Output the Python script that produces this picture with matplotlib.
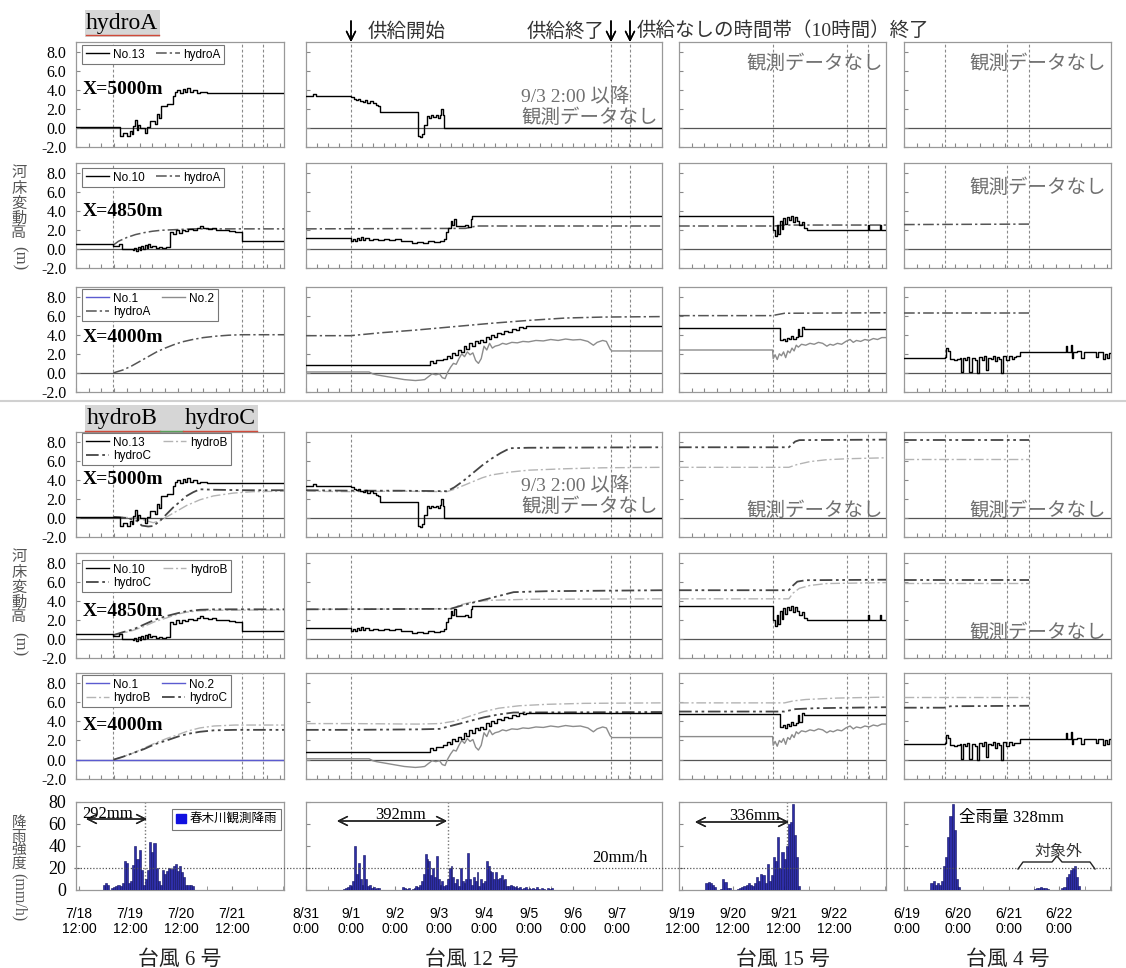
import numpy as np
import matplotlib
matplotlib.use('Agg')
import matplotlib.pyplot as plt
from matplotlib.lines import Line2D
from matplotlib.patches import Patch, Rectangle

W, H = 1126, 968
SERIF = ['Liberation Serif', 'Noto Sans CJK JP']
SANS = ['Liberation Sans', 'Noto Sans CJK JP']
JP = ['Noto Sans CJK JP', 'DejaVu Sans']

# ---------------- data (hours from left edge of each column) ----------------
# typhoon 6
t6_no13_t = [0, 20.7, 22.3, 23.9, 25.4, 26.2, 27.0, 27.8, 28.6, 29.4, 30.2, 32.5, 33.3, 34.9, 37.2, 38.0,
             39.3, 39.9, 43.0, 45.9, 46.6, 47.4, 49.0, 50.2, 51.3, 52.1, 53.7, 55.3, 56.8, 58.4, 60.8, 61.6, 98]
t6_no13_v = [0.1, -0.8, -0.5, -0.85, -0.3, -0.6, 0.2, 0.8, -0.2, 0.3, 0.0, -0.5, 0.1, 0.7, 0.4, 1.5,
             1.0, 2.3, 2.5, 3.3, 3.8, 4.0, 3.7, 4.1, 3.8, 4.2, 3.8, 4.0, 3.7, 3.8, 3.75, 3.7, 3.7]
t6_no10_t = [0, 17.6, 20.4, 21.5, 26.7, 27.5, 28.3, 29.1, 30.0, 30.8, 31.6, 32.5, 33.3, 34.0, 35.0, 36.0,
             37.5, 39.0, 40.5, 42.5, 44.3, 45.5, 47.0, 48.5, 50.0, 51.5, 53.0, 55.0, 57.0, 58.4, 60, 62,
             64, 66, 68, 70, 72, 75, 78.4, 98]
t6_no10_v = [0.5, 0.3, 0.5, 0.0, -0.1, 0.1, -0.2, 0.2, -0.1, 0.3, 0.0, 0.4, 0.1, 0.5, 0.2, 0.3,
             0.1, 0.2, 0.1, 0.2, 1.8, 1.6, 2.0, 1.7, 2.0, 1.9, 2.1, 2.0, 2.2, 2.35, 2.2, 2.1,
             2.15, 2.0, 1.95, 2.0, 1.85, 1.8, 0.8, 0.8]
t6_no1_t = [0, 98]
t6_no1_v = [0.0, 0.0]
t6_hA2_t = [17.6, 20, 24, 28, 32, 36, 40, 45, 50, 55, 98]
t6_hA2_v = [0.4, 0.8, 1.2, 1.5, 1.7, 1.85, 1.95, 2.0, 2.05, 2.1, 2.1]
t6_hA3_t = [17.6, 22, 26, 30, 34, 38, 42, 46, 50, 55, 60, 66, 72, 78, 98]
t6_hA3_v = [0.0, 0.3, 0.7, 1.2, 1.7, 2.2, 2.6, 2.95, 3.25, 3.5, 3.7, 3.85, 3.95, 4.0, 4.0]
t6_hB4_t = [17.6, 28.6, 33.3, 36.4, 39.6, 42.7, 45.8, 49.0, 52.1, 55.3, 58.4, 64.7, 74.1, 83.5, 98]
t6_hB4_v = [0.1, 0.0, -0.3, -0.5, -0.3, 0.1, 0.5, 0.9, 1.3, 1.6, 1.9, 2.3, 2.6, 2.75, 2.8]
t6_hC4_t = [17.6, 24, 28.6, 31, 34, 36.4, 39.6, 42.7, 45.8, 49.0, 52.1, 55.3, 58.4, 65, 80, 98]
t6_hC4_v = [0.1, 0.0, -0.3, -0.8, -0.9, -0.85, -0.3, 0.4, 1.1, 1.7, 2.3, 2.7, 3.0, 2.95, 2.9, 2.9]
t6_h5_t = [17.6, 22, 27, 32, 37, 42.7, 48, 52, 58.4, 66, 98]
t6_hB5_v = [0.4, 0.6, 0.9, 1.3, 1.8, 2.2, 2.6, 2.8, 2.95, 3.0, 3.05]
t6_hC5_v = [0.4, 0.7, 1.0, 1.5, 2.0, 2.4, 2.7, 2.9, 3.05, 3.1, 3.1]
t6_h6_t = [17.6, 22, 27, 32, 37, 42.7, 48, 53, 58.4, 65, 75, 98]
t6_hB6_v = [0.0, 0.3, 0.7, 1.2, 1.7, 2.2, 2.6, 3.0, 3.3, 3.5, 3.6, 3.6]
t6_hC6_v = [0.0, 0.3, 0.7, 1.1, 1.6, 2.0, 2.4, 2.7, 2.9, 3.05, 3.1, 3.1]

# typhoon 12
t12_no13_t = [0, 3.6, 5.4, 24.3, 26, 27, 28, 29, 30.5, 32, 33, 34.5, 36, 37.5, 39, 40, 60.6, 61.5, 62.5,
              63.5, 65, 66.5, 67.5, 68.5, 70, 71, 72, 73, 73.8, 74.2, 192]
t12_no13_v = [3.3, 3.6, 3.35, 3.2, 3.0, 2.9, 3.0, 2.8, 2.7, 2.9, 2.6, 2.8, 2.6, 2.4, 2.3, 1.7, -0.8, -1.0, -0.6,
              0.3, 1.2, 1.0, 1.3, 1.1, 1.3, 1.0, 1.4, 2.0, 1.3, 0.0, 0.0]
t12_no10_t = [0, 24.3, 25.5, 26.5, 27.5, 28.5, 29.5, 30.5, 32, 34, 36, 39, 42, 45, 48, 51, 54, 57, 60, 63,
              66, 69, 72, 74.5, 75.5, 76.5, 78, 79, 80, 81, 83, 85.5, 87.5, 89, 89.5, 192]
t12_no10_v = [1.1, 0.8, 1.0, 0.8, 1.1, 0.9, 1.2, 0.9, 1.1, 0.95, 1.0, 0.9, 1.0, 0.95, 1.05, 0.8, 0.85, 0.6,
              0.75, 0.65, 0.8, 0.7, 0.8, 1.0, 1.8, 2.2, 2.9, 2.5, 3.1, 2.4, 2.45, 2.5, 2.3, 3.1, 3.45, 3.45]
t12_no1_t = [0, 67, 68.5, 70, 72, 74, 76, 77.5, 79, 80.5, 82, 83.5, 85, 86.5, 88, 89.5, 91, 92.5, 94, 95.5,
             97, 98.5, 100, 101.5, 103, 105, 107, 109, 111, 113, 115, 117, 118.5, 192]
t12_no1_v = [0.8, 1.2, 1.0, 1.3, 1.3, 1.5, 1.8, 1.6, 2.1, 1.9, 2.4, 2.2, 2.8, 2.5, 3.1, 2.8, 3.3, 3.1, 3.4,
             3.2, 3.8, 3.5, 4.0, 3.8, 4.2, 4.1, 4.4, 4.3, 4.6, 4.5, 4.8, 4.75, 4.9, 4.9]
t12_no2_t = [0, 34, 36, 38, 41, 44, 47, 50, 53, 56, 59, 62, 64, 66, 68, 70, 72, 73.5, 75, 76.5, 78, 79.5,
             81, 82.5, 84, 85.5, 87, 88.5, 90, 91.5, 93, 94.5, 96, 97.5, 99, 100.5, 102, 104, 106, 108,
             111, 114, 117, 120, 124, 128, 132, 136, 140, 144, 148, 152, 155, 157, 160, 162, 164, 165, 192]
t12_no2_v = [0.1, 0.1, -0.1, -0.2, -0.3, -0.4, -0.5, -0.6, -0.7, -0.75, -0.8, -0.75, -0.7, -0.4, -0.1,
             -0.2, -0.1, -0.5, -0.6, 0.1, 0.6, 1.0, 0.9, 1.5, 2.0, 1.7, 2.2, 1.9, 2.1, 1.3, 1.0, 1.5,
             2.8, 2.4, 3.1, 2.6, 2.8, 2.9, 3.1, 3.0, 3.2, 3.15, 3.3, 3.25, 3.4, 3.35, 3.5, 3.4, 3.55,
             3.45, 3.5, 3.3, 2.9, 3.2, 3.4, 3.3, 2.5, 2.3, 2.3]
t12_hA2_t = [0, 86, 92, 192]
t12_hA2_v = [2.1, 2.15, 2.4, 2.4]
t12_hA3_t = [0, 24, 40, 60, 80, 100, 120, 140, 160, 192]
t12_hA3_v = [3.9, 3.9, 4.2, 4.5, 4.85, 5.2, 5.5, 5.75, 5.85, 5.9]
t12_hC4_t = [0, 24, 50, 76, 80, 85, 90, 95, 100, 105, 110, 120, 192]
t12_hC4_v = [2.9, 2.85, 2.85, 2.8, 3.2, 3.9, 4.7, 5.5, 6.2, 6.8, 7.3, 7.35, 7.4]
t12_hB4_t = [0, 24, 50, 76, 80, 85, 90, 95, 100, 110, 120, 140, 160, 192]
t12_hB4_v = [2.8, 2.75, 2.8, 2.75, 3.0, 3.4, 3.8, 4.2, 4.5, 4.8, 5.0, 5.15, 5.25, 5.3]
t12_hC5_t = [0, 78, 84, 90, 96, 104, 112, 130, 192]
t12_hC5_v = [3.1, 3.15, 3.5, 3.8, 4.1, 4.5, 4.9, 5.0, 5.1]
t12_hB5_t = [0, 78, 84, 90, 100, 120, 192]
t12_hB5_v = [3.1, 3.15, 3.6, 3.9, 4.05, 4.15, 4.2]
t12_hB6_t = [0, 24, 60, 72, 80, 88, 96, 104, 115, 130, 150, 192]
t12_hB6_v = [3.75, 3.75, 3.7, 3.75, 4.0, 4.5, 5.0, 5.35, 5.6, 5.75, 5.85, 5.9]
t12_hC6_t = [0, 24, 60, 72, 80, 88, 96, 104, 112, 192]
t12_hC6_v = [3.1, 3.1, 3.15, 3.2, 3.6, 4.0, 4.4, 4.7, 4.9, 4.95]

# typhoon 15
t15_no10_t = [0, 44.6, 45.4, 46.2, 47.0, 47.8, 48.6, 49.4, 50.2, 51.0, 52.0, 53.0, 54.0, 55.0, 56.0, 57.0,
              58.0, 59.0, 60.5, 89.5, 90.0, 95.0, 95.5, 98]
t15_no10_v = [3.5, 2.0, 1.4, 2.5, 1.6, 2.9, 2.1, 3.2, 2.6, 3.3, 3.0, 3.4, 2.8, 3.3, 2.9, 2.5,
              2.8, 2.2, 2.0, 2.5, 2.0, 2.5, 2.0, 2.0]
t15_no1_t = [0, 47.8, 49, 50, 51, 52, 53, 54, 55.5, 56.5, 57, 58, 59, 98]
t15_no1_v = [4.7, 3.4, 3.6, 3.3, 3.7, 3.5, 3.9, 3.6, 3.8, 4.6, 3.9, 4.8, 4.6, 4.6]
t15_no2_t = [0, 44.3, 44.6, 45.5, 46.5, 47.5, 48.5, 49.5, 50.5, 51.5, 52.5, 53.5, 54.5, 55.5, 56.5, 58, 60,
             62, 64, 66, 68, 70, 71.5, 73, 75, 77, 79, 81, 82.5, 84, 86, 88, 90, 92, 94, 96, 98]
t15_no2_v = [2.4, 2.4, 1.5, 1.9, 1.4, 2.0, 1.8, 2.2, 1.6, 2.3, 2.1, 2.6, 2.3, 2.9, 2.7, 3.0, 2.9,
             3.1, 3.0, 3.2, 3.1, 2.8, 3.0, 2.9, 3.1, 3.0, 3.3, 3.5, 3.2, 3.4, 3.3, 3.5, 3.4, 3.6, 3.5, 3.7, 3.7]
t15_hA2_t = [0, 45, 50, 98]
t15_hA2_v = [2.4, 2.4, 2.5, 2.5]
t15_hA3_t = [0, 44, 50, 98]
t15_hA3_v = [6.0, 6.0, 6.25, 6.3]
t15_hC4_t = [0, 52, 55, 57, 98]
t15_hC4_v = [7.4, 7.4, 8.0, 8.15, 8.2]
t15_hB4_t = [0, 52, 56, 62, 70, 80, 98]
t15_hB4_v = [5.3, 5.3, 5.6, 5.9, 6.1, 6.2, 6.3]
t15_hC5_t = [0, 52, 54, 56, 60, 98]
t15_hC5_v = [5.1, 5.1, 5.6, 6.0, 6.15, 6.2]
t15_hB5_t = [0, 52, 54, 57, 62, 70, 98]
t15_hB5_v = [4.2, 4.2, 4.8, 5.3, 5.6, 5.8, 5.9]
t15_hB6_t = [0, 50, 54, 60, 75, 98]
t15_hB6_v = [5.9, 5.9, 6.1, 6.25, 6.4, 6.5]
t15_hC6_t = [0, 50, 55, 65, 98]
t15_hC6_v = [5.0, 5.0, 5.25, 5.35, 5.45]

# typhoon 4
t4_no1_t = [0, 19.3, 20, 21, 22, 23.5, 25, 26.5, 27, 28, 29, 30, 31, 32, 33.5, 34.5, 35.5, 37, 38, 39,
            40, 41, 42, 43, 44, 45, 46, 47, 48.5, 49.5, 51, 52, 53, 55, 76.5, 77, 79, 79.5, 80, 82,
            84, 85, 90, 91, 92, 94, 95, 96, 97, 98]
t4_no1_v = [1.6, 1.7, 2.6, 2.3, 1.5, 1.4, 1.5, 1.6, 0.1, 1.6, 1.4, 1.7, 0.1, 1.6, 1.4, 0.0, 1.7, 1.4, 1.8, 0.3,
            1.6, 1.5, 1.8, 1.2, 1.7, 1.5, 0.0, 1.8, 1.4, 1.8, 1.5, 1.7, 1.75, 2.2, 2.8, 2.2, 2.9, 1.6, 2.2, 2.25,
            1.6, 2.2, 2.2, 1.7, 2.2, 1.5, 2.0, 1.6, 2.1, 2.1]
t4_end_t = [0, 59.2]
t4_hA2_v = [2.55, 2.6]
t4_hA3_v = [6.3, 6.3]
t4_hC4_v = [8.2, 8.2]
t4_hB4_v = [6.2, 6.2]
t4_hC5_v = [6.2, 6.2]
t4_hB5_v = [5.9, 5.9]
t4_hB6_v = [6.5, 6.5]
t4_hC6_t = [0, 19, 22, 59.2]
t4_hC6_v = [5.4, 5.4, 5.55, 5.6]

# hourly rain (mm/h), first hour of each run
rain6_start = 11
rain6 = [5, 6, 5, 0, 2, 3, 4, 5, 4, 6, 26, 25, 6, 8, 23, 40, 28, 36, 18, 5, 10, 18, 44, 35, 43, 20, 8, 5,
         18, 15, 17, 20, 19, 22, 24, 17, 22, 16, 12, 5, 5, 5, 4]
rain12_start = 20
rain12 = [1, 2, 3, 5, 4, 8, 40, 15, 25, 10, 5, 32, 10, 4, 5, 2, 3, 1, 2, 2, 0, 0, 0, 0, 0, 0, 0, 0, 0, 0,
          0, 0, 3, 2, 1, 2, 0, 1, 2, 4, 3, 5, 8, 15, 33, 28, 26, 14, 20, 12, 31, 10, 5, 8, 4, 5, 10, 20,
          22, 12, 6, 10, 4, 20, 8, 6, 10, 34, 10, 5, 12, 8, 16, 4, 10, 6, 8, 26, 22, 17, 16, 10, 16, 10,
          11, 14, 9, 10, 4, 4, 5, 4, 3, 4, 2, 3, 1, 2, 3, 1, 2, 1, 2, 1, 3, 1, 0, 2, 1, 0, 2, 1, 2]
rain15_start = 10
rain15 = [0, 6, 7, 6, 5, 3, 0, 0, 1, 10, 7, 2, 2, 0, 0, 0, 1, 2, 3, 4, 5, 6, 5, 4, 6, 12, 8, 15, 14, 6,
          24, 8, 14, 30, 26, 48, 20, 35, 28, 40, 60, 62, 78, 50, 30, 4]
rain4a_start = 11
rain4a = [6, 8, 5, 6, 5, 8, 22, 30, 48, 67, 78, 55, 10, 3]
rain4b_start = 60
rain4b = [1, 2, 2, 3, 2, 2, 1]
rain4c_start = 73
rain4c = [2, 3, 12, 15, 18, 20, 22, 12, 4]

rain6_labels = ['7/18\n12:00', '7/19\n12:00', '7/20\n12:00', '7/21\n12:00']
rain12_labels = ['8/31\n0:00', '9/1\n0:00', '9/2\n0:00', '9/3\n0:00', '9/4\n0:00', '9/5\n0:00',
                 '9/6\n0:00', '9/7\n0:00']
rain15_labels = ['9/19\n12:00', '9/20\n12:00', '9/21\n12:00', '9/22\n12:00']
rain4_labels = ['6/19\n0:00', '6/20\n0:00', '6/21\n0:00', '6/22\n0:00']
typhoon_names = ['台風 6 号', '台風 12 号', '台風 15 号', '台風 4 号']
section_names = ['X=5000m', 'X=4850m', 'X=4000m', 'X=5000m', 'X=4850m', 'X=4000m']

# supply start / end / end of 10h no-supply, per column (hours)
supply = [(17.5, 78.2, 88.3), (24.3, 164.5, 174.5), (44.5, 79.5, 89.5), (19.4, 48.8, 59.2)]
rain_mark = [31.2, 76.4, 49.4]

# ---------------- layout ----------------
COLS = [(76, 284), (306, 662), (679, 886), (904, 1111)]
ROWS = [(42, 147), (163, 268), (287, 392), (432, 537), (553, 658), (673, 779)]
RAIN_TB = (802, 890)
SPANS = [98, 192, 98, 98]

DD = (0, (7, 2, 1.5, 2))
STYLES = {
    'obs': dict(color='black', lw=1.0, drawstyle='steps-post'),
    'obs2': dict(color='#8c8c8c', lw=1.0),
    'no1b': dict(color='#5b5bd0', lw=1.0),
    'no2b': dict(color='#5b5bd0', lw=1.0),
    'hA': dict(color='#555555', lw=1.1, ls=DD),
    'hB': dict(color='#b4b4b4', lw=1.0, ls=DD),
    'hC': dict(color='#454545', lw=1.3, ls=(0, (7, 2, 1.5, 2, 1.5, 2))),
}

panels = {
    (0, 0): [(t6_no13_t, t6_no13_v, 'obs')],
    (1, 0): [(t6_hA2_t, t6_hA2_v, 'hA'), (t6_no10_t, t6_no10_v, 'obs')],
    (2, 0): [(t6_hA3_t, t6_hA3_v, 'hA')],
    (3, 0): [(t6_hB4_t, t6_hB4_v, 'hB'), (t6_hC4_t, t6_hC4_v, 'hC'), (t6_no13_t, t6_no13_v, 'obs')],
    (4, 0): [(t6_h5_t, t6_hB5_v, 'hB'), (t6_h5_t, t6_hC5_v, 'hC'), (t6_no10_t, t6_no10_v, 'obs')],
    (5, 0): [(t6_no1_t, t6_no1_v, 'no1b'), (t6_h6_t, t6_hB6_v, 'hB'), (t6_h6_t, t6_hC6_v, 'hC')],
    (0, 1): [(t12_no13_t, t12_no13_v, 'obs')],
    (1, 1): [(t12_hA2_t, t12_hA2_v, 'hA'), (t12_no10_t, t12_no10_v, 'obs')],
    (2, 1): [(t12_hA3_t, t12_hA3_v, 'hA'), (t12_no2_t, t12_no2_v, 'obs2'), (t12_no1_t, t12_no1_v, 'obs')],
    (3, 1): [(t12_hB4_t, t12_hB4_v, 'hB'), (t12_hC4_t, t12_hC4_v, 'hC'), (t12_no13_t, t12_no13_v, 'obs')],
    (4, 1): [(t12_hB5_t, t12_hB5_v, 'hB'), (t12_hC5_t, t12_hC5_v, 'hC'), (t12_no10_t, t12_no10_v, 'obs')],
    (5, 1): [(t12_hB6_t, t12_hB6_v, 'hB'), (t12_hC6_t, t12_hC6_v, 'hC'), (t12_no2_t, t12_no2_v, 'obs2'),
             (t12_no1_t, t12_no1_v, 'obs')],
    (0, 2): [],
    (1, 2): [(t15_hA2_t, t15_hA2_v, 'hA'), (t15_no10_t, t15_no10_v, 'obs')],
    (2, 2): [(t15_hA3_t, t15_hA3_v, 'hA'), (t15_no2_t, t15_no2_v, 'obs2'), (t15_no1_t, t15_no1_v, 'obs')],
    (3, 2): [(t15_hB4_t, t15_hB4_v, 'hB'), (t15_hC4_t, t15_hC4_v, 'hC')],
    (4, 2): [(t15_hB5_t, t15_hB5_v, 'hB'), (t15_hC5_t, t15_hC5_v, 'hC'), (t15_no10_t, t15_no10_v, 'obs')],
    (5, 2): [(t15_hB6_t, t15_hB6_v, 'hB'), (t15_hC6_t, t15_hC6_v, 'hC'), (t15_no2_t, t15_no2_v, 'obs2'),
             (t15_no1_t, t15_no1_v, 'obs')],
    (0, 3): [],
    (1, 3): [(t4_end_t, t4_hA2_v, 'hA')],
    (2, 3): [(t4_end_t, t4_hA3_v, 'hA'), (t4_no1_t, t4_no1_v, 'obs')],
    (3, 3): [(t4_end_t, t4_hB4_v, 'hB'), (t4_end_t, t4_hC4_v, 'hC')],
    (4, 3): [(t4_end_t, t4_hB5_v, 'hB'), (t4_end_t, t4_hC5_v, 'hC')],
    (5, 3): [(t4_end_t, t4_hB6_v, 'hB'), (t4_hC6_t, t4_hC6_v, 'hC'), (t4_no1_t, t4_no1_v, 'obs')],
}

# legend entries, already in column-major order for ncol=2
legends = [
    [('No.13', 'obs'), ('hydroA', 'hA')],
    [('No.10', 'obs'), ('hydroA', 'hA')],
    [('No.1', 'no1b'), ('hydroA', 'hA'), ('No.2', 'obs2')],
    [('No.13', 'obs'), ('hydroC', 'hC'), ('hydroB', 'hB')],
    [('No.10', 'obs'), ('hydroC', 'hC'), ('hydroB', 'hB')],
    [('No.1', 'no1b'), ('hydroB', 'hB'), ('No.2', 'no2b'), ('hydroC', 'hC')],
]
legend_top = [45, 168, 289, 433, 560, 675]
label_y = [89, 211, 338, 480, 611, 725]


def box(l, t, r, b):
    return [l / W, 1 - b / H, (r - l) / W, (b - t) / H]


def ftext(x, y, s, **kw):
    return fig.text(x / W, 1 - y / H, s, **kw)


def fline(xs, ys, **kw):
    fig.add_artist(Line2D([x / W for x in xs], [1 - y / H for y in ys], transform=fig.transFigure, **kw))


def style_axes(ax):
    for sp in ax.spines.values():
        sp.set_color('#999999')
        sp.set_linewidth(0.9)
    ax.tick_params(direction='in', length=3, color='#888888', width=0.8)


fig = plt.figure(figsize=(W / 100, H / 100), dpi=100)

# ---------------- bed variation panels ----------------
for r, (top, bot) in enumerate(ROWS):
    for c, (left, right) in enumerate(COLS):
        ax = fig.add_axes(box(left, top, right, bot))
        style_axes(ax)
        ax.set_xticks(np.arange(0, SPANS[c] + 1, 6))
        ax.set_yticks([-2, 0, 2, 4, 6, 8])
        ax.set_xlim(0, SPANS[c])
        ax.set_ylim(-2, 9)
        ax.tick_params(labelbottom=False)
        ax.axhline(0, color='#555555', lw=0.9, zorder=1)
        for xv in supply[c]:
            ax.axvline(xv, color='#8a8a8a', lw=0.8, ls=(0, (2.5, 2)), zorder=1)
        for t, v, key in panels[(r, c)]:
            ax.plot(t, v, zorder=3, **STYLES[key])
        if c == 0:
            ax.set_yticklabels(['%.1f' % v for v in [-2, 0, 2, 4, 6, 8]],
                               family=SERIF, fontsize=11.5)
            ax.tick_params(axis='y', pad=7)
            handles = [Line2D([], [], **{k: v for k, v in STYLES[key].items() if k != 'drawstyle'})
                       for _, key in legends[r]]
            names = [n for n, _ in legends[r]]
            leg = ax.legend(handles, names, loc='upper left', ncol=2,
                            bbox_to_anchor=(6 / 208, (bot - legend_top[r]) / (bot - top)),
                            borderaxespad=0, prop={'family': SANS, 'size': 8.5},
                            handlelength=2.0, handletextpad=0.3, columnspacing=1.0,
                            borderpad=0.3, labelspacing=0.1, fancybox=False, framealpha=1)
            leg.get_frame().set_edgecolor('#777777')
            leg.get_frame().set_linewidth(0.8)
            ftext(83, label_y[r], section_names[r], family=SERIF, fontsize=14,
                  fontweight='bold', va='center', ha='left')
        else:
            ax.set_yticklabels([])

# ---------------- rain panels ----------------
rain_sets = [
    [(rain6_start, rain6)],
    [(rain12_start, rain12)],
    [(rain15_start, rain15)],
    [(rain4a_start, rain4a), (rain4b_start, rain4b), (rain4c_start, rain4c)],
]
rain_labels = [rain6_labels, rain12_labels, rain15_labels, rain4_labels]
for c, (left, right) in enumerate(COLS):
    ax = fig.add_axes(box(left, RAIN_TB[0], right, RAIN_TB[1]))
    style_axes(ax)
    span = 192 if c == 1 else 96
    ax.set_yticks([0, 20, 40, 60, 80])
    ax.set_xticks(np.arange(len(rain_labels[c])) * 24)
    ax.set_xticks(np.arange(0, span + 1, 12), minor=True)
    ax.tick_params(which='minor', direction='in', length=3, color='#888888')
    ax.set_xticklabels(rain_labels[c], family=SANS, fontsize=10, linespacing=1.15)
    ax.tick_params(axis='x', pad=12)
    if c == 1:
        ax.set_xlim(0, 192)
    else:
        ax.set_xlim(-1.5, 96.5)
    ax.set_ylim(0, 80)
    if c == 0:
        ax.set_yticklabels(['0', '20', '40', '60', '80'], family=SERIF, fontsize=13)
        ax.tick_params(axis='y', pad=7)
    else:
        ax.set_yticklabels([])
    if c < 3:
        ax.axvline(rain_mark[c], color='#777777', lw=1.0, ls=(0, (1, 1.5)), zorder=1)
    for start, vals in rain_sets[c]:
        hrs = np.arange(len(vals)) + start
        ax.bar(hrs, vals, width=1.0, align='edge', color='#2e2ea8', edgecolor='#101060',
               linewidth=0.4, zorder=3)
    if c == 0:
        leg = ax.legend([Patch(facecolor='#1010e0', edgecolor='#1010e0')], ['春木川観測降雨'],
                        loc='upper right', bbox_to_anchor=(0.985, 0.92), borderaxespad=0,
                        prop={'family': JP, 'size': 9}, handlelength=0.8, handleheight=0.8,
                        handletextpad=0.3, borderpad=0.3, fancybox=False, framealpha=1)
        leg.get_frame().set_edgecolor('#777777')
        leg.get_frame().set_linewidth(0.8)
    ftext((left + right) / 2 + (0 if c != 1 else -12), 960, typhoon_names[c], family=SERIF,
          fontsize=15, ha='center', va='center', color='#222222')

# 20 mm/h reference across all rain panels
fline([74, 1111], [868, 868], color='#555555', lw=0.9, ls=(0, (1, 1.5)))
ftext(620, 858, '20mm/h', family=SERIF, fontsize=12, ha='center', va='center')

# rainfall totals
arrow_kw = dict(arrowstyle='<->', lw=1.0, color='#222222', mutation_scale=16, shrinkA=0, shrinkB=0)
for x0, x1, y in [(86, 147, 819), (337, 447, 821), (695, 789, 822)]:
    fig.add_artist(plt.annotate('', xy=(x1 / W, 1 - y / H), xytext=(x0 / W, 1 - y / H),
                                xycoords='figure fraction', textcoords='figure fraction',
                                arrowprops=arrow_kw))
ftext(108, 814, '292mm', family=SERIF, fontsize=12, ha='center', va='center')
ftext(401, 815, '392mm', family=SERIF, fontsize=12, ha='center', va='center')
ftext(755, 816, '336mm', family=SERIF, fontsize=12, ha='center', va='center')
ftext(959, 818, '全雨量 328mm', family=SERIF, fontsize=12, ha='left', va='center')
ftext(1058, 851, '対象外', family=JP, fontsize=11.5, ha='center', va='center', color='#333333')
fline([1018, 1023, 1052, 1057, 1062, 1090, 1095], [869, 862, 862, 856, 862, 862, 869],
      color='#222222', lw=1.0)

# ---------------- headings, notes ----------------
fig.add_artist(Rectangle((85 / W, 1 - 37 / H), 75 / W, 27 / H, transform=fig.transFigure,
                         facecolor='#d6d6d6', edgecolor='none'))
ftext(122, 23, 'hydroA', family=SERIF, fontsize=17, ha='center', va='center')
fline([86, 159], [35, 35], color='#d04a3a', lw=1.0)

fig.add_artist(Rectangle((85 / W, 1 - 432 / H), 173 / W, 27 / H, transform=fig.transFigure,
                         facecolor='#d6d6d6', edgecolor='none'))
ftext(122, 418, 'hydroB', family=SERIF, fontsize=17, ha='center', va='center')
ftext(220, 418, 'hydroC', family=SERIF, fontsize=17, ha='center', va='center')
fline([85, 160], [431, 431], color='#d04a3a', lw=1.0)
fline([160, 183], [431, 431], color='#5aa05a', lw=1.0)
fline([183, 257], [431, 431], color='#d04a3a', lw=1.0)

fline([0, W], [401, 401], color='#d0d0d0', lw=1.5)

# supply arrows
for xa in [351, 611, 630]:
    fig.add_artist(plt.annotate('', xy=(xa / W, 1 - 42 / H), xytext=(xa / W, 1 - 21 / H),
                                xycoords='figure fraction', textcoords='figure fraction',
                                arrowprops=dict(arrowstyle='->', lw=1.1, color='black',
                                                mutation_scale=16, shrinkA=0, shrinkB=0)))
ftext(368, 31, '供給開始', family=JP, fontsize=14, ha='left', va='center', color='#333333')
ftext(605, 31, '供給終了', family=JP, fontsize=14, ha='right', va='center', color='#333333')
ftext(637, 31, '供給なしの時間帯（10時間）終了', family=SERIF, fontsize=14, ha='left', va='center',
      color='#333333')

gray = '#707070'
for x, y in [(521, 97), (521, 486)]:
    ftext(x, y, '9/3 2:00 以降', family=SERIF, fontsize=14, ha='left', va='center', color=gray)
    ftext(x, y + 20, '観測データなし', family=JP, fontsize=14, ha='left', va='center', color=gray)
for x, y in [(883, 63), (1106, 63), (1106, 187), (883, 510), (1106, 510), (1106, 632)]:
    ftext(x, y, '観測データなし', family=JP, fontsize=14, ha='right', va='center', color=gray)

# vertical axis titles
for y0, ym in [(173, 258), (557, 644)]:
    for i, ch in enumerate('河床変動高'):
        ftext(19, y0 + 15 * i, ch, family=JP, fontsize=11, ha='center', va='center', color='#555555')
    ftext(19, ym, '(m)', family=SERIF, fontsize=12, ha='center', va='center', rotation=-90,
          color='#555555')
for i, ch in enumerate('降雨強度'):
    ftext(19, 823 + 13.5 * i, ch, family=JP, fontsize=10.5, ha='center', va='center', color='#555555')
ftext(19, 897, '(mm/h)', family=SERIF, fontsize=11.5, ha='center', va='center', rotation=-90,
      color='#555555')

fig.savefig('out.png', dpi=100)
